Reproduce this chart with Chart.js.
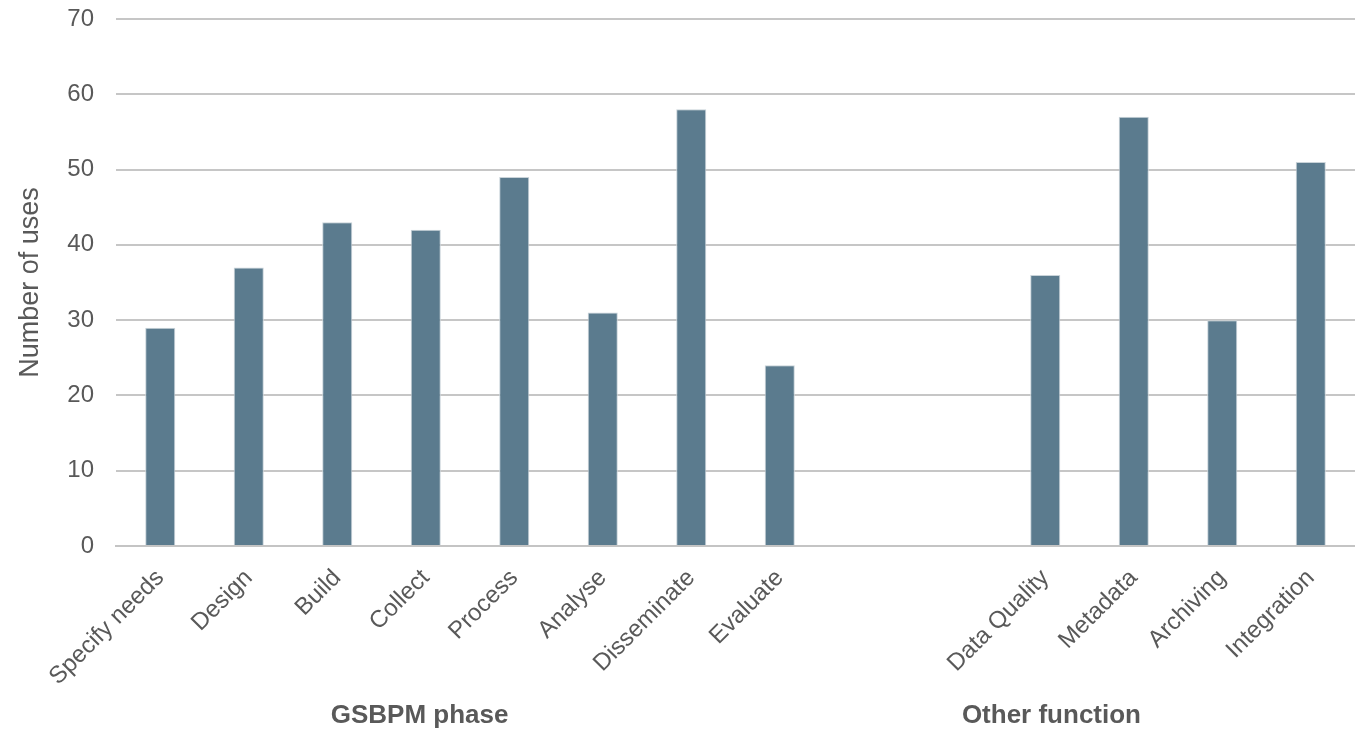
<!DOCTYPE html>
<html lang="en">
<head>
    <meta charset="UTF-8">
    <title>Number of uses by GSBPM phase and other function</title>
    <script src="https://cdn.jsdelivr.net/npm/chart.js"></script>
    <style>
        body {
            margin: 0;
            background-color: #fff;
        }

        #usesChart {
            display: block;
        }
    </style>
</head>
<body>
    <canvas id="usesChart" width="1355" height="729"></canvas>

    <script>
        // categories (two blank slots separate the two groups)
        const categories = ["Specify needs", "Design", "Build", "Collect", "Process", "Analyse", "Disseminate", "Evaluate",
            "", "", "Data Quality", "Metadata", "Archiving", "Integration"];
        const uses = [29, 37, 43, 42, 49, 31, 58, 24, null, null, 36, 57, 30, 51];
        const yTicks = [0, 10, 20, 30, 40, 50, 60, 70];
        const groupLabels = ["GSBPM phase", "Other function"];
        const groupCenters = [2.93, 10.07];

        const textColor = "#595959";
        const fontFamily = "'Liberation Sans', Arial, sans-serif";

        const groupLabelPlugin = {
            id: "groupLabels",
            afterDraw(chart) {
                const ctx = chart.ctx;
                const x = chart.scales.x;
                ctx.save();
                ctx.font = "bold 26px " + fontFamily;
                ctx.fillStyle = textColor;
                ctx.textAlign = "center";
                ctx.textBaseline = "middle";
                groupLabels.forEach((label, i) => {
                    ctx.fillText(label, x.getPixelForValue(groupCenters[i]), 716);
                });
                ctx.restore();
            }
        };

        function drawChart() {
            const ctx = document.getElementById("usesChart").getContext("2d");
            new Chart(ctx, {
                type: "bar",
                data: {
                    labels: categories,
                    datasets: [{
                        data: uses,
                        backgroundColor: "#5b7b8e",
                        borderColor: "#c9d3d9",
                        borderWidth: 1,
                        categoryPercentage: 1,
                        barPercentage: 0.34
                    }]
                },
                options: {
                    responsive: false,
                    animation: false,
                    layout: { padding: { top: 19, right: 0, bottom: 0, left: 0 } },
                    scales: {
                        x: {
                            grid: { display: false },
                            border: { color: "#c4c4c4", width: 2 },
                            ticks: {
                                color: textColor,
                                font: { family: fontFamily, size: 24 },
                                maxRotation: 45,
                                minRotation: 45,
                                autoSkip: false,
                                padding: 10
                            },
                            afterFit(scale) { scale.height = 183; }
                        },
                        y: {
                            min: 0,
                            max: 70,
                            afterBuildTicks(scale) { scale.ticks = yTicks.map(v => ({ value: v })); },
                            grid: { color: "#c6c6c6", lineWidth: 2, drawTicks: false },
                            border: { display: false },
                            ticks: {
                                color: textColor,
                                font: { family: fontFamily, size: 24 },
                                padding: 22
                            },
                            title: {
                                display: true,
                                text: "Number of uses",
                                color: textColor,
                                font: { family: fontFamily, size: 27 },
                                padding: { top: 14, bottom: 0 }
                            },
                            afterFit(scale) {
                                scale.width = 116;
                                scale.paddingTop = 0;
                                scale.paddingBottom = 0;
                            }
                        }
                    },
                    plugins: {
                        legend: { display: false },
                        tooltip: { enabled: false }
                    }
                },
                plugins: [groupLabelPlugin]
            });
        }

        document.addEventListener("DOMContentLoaded", drawChart);
    </script>
</body>
</html>
